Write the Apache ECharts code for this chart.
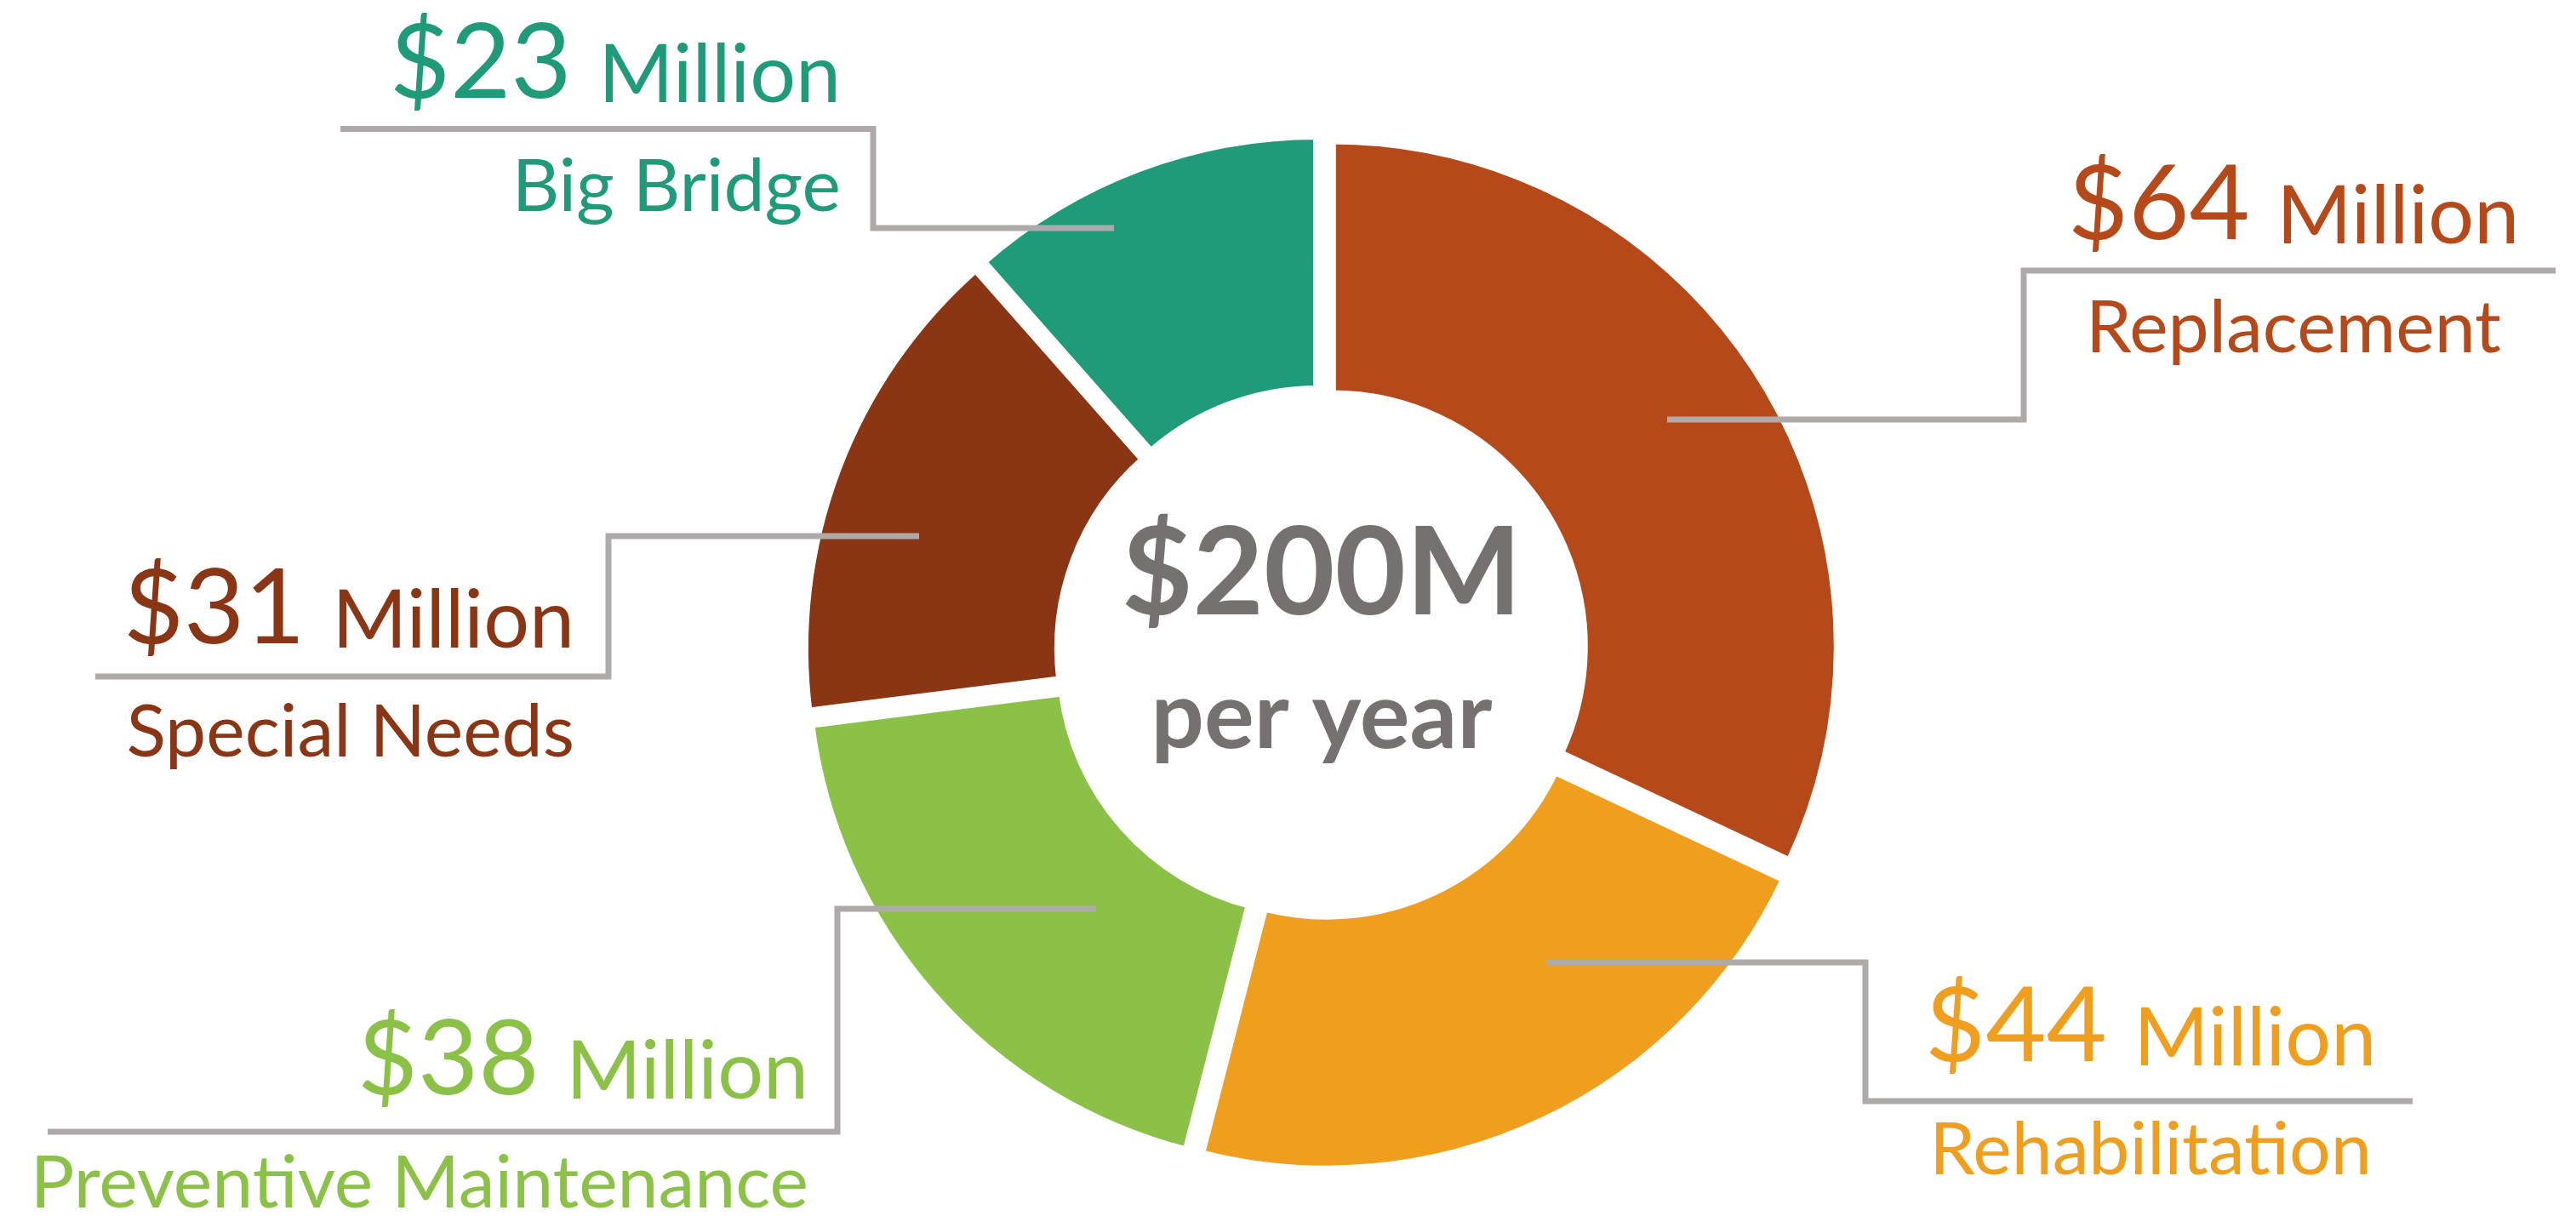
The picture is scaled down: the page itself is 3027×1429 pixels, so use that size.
<!DOCTYPE html>
<html>
<head>
<meta charset="utf-8">
<title>Bridge program funding</title>
<script src="https://cdn.jsdelivr.net/npm/echarts@6/dist/echarts.min.js"></script>
<style>
  html, body { margin: 0; padding: 0; background: #fff; }
  #chart { width: 3027px; height: 1429px; }
</style>
</head>
<body>
<div id="chart"></div>
<script>
// data
const categories = ['Replacement', 'Rehabilitation', 'Preventive Maintenance', 'Special Needs', 'Big Bridge']
const values = [64, 44, 38, 31, 23] // $ million per year
const unitLabel = 'Million'
const totalLabel = '$200M'
const totalSub = 'per year'

// styles
const colors = ['#B5491A', '#F09E1D', '#8CC147', '#8A3514', '#1F9B79']
const lineColor = '#AEAAAA'
const centerColor = '#767171'
const font = 'Lato'
const pieCenter = [1553, 767]
const pieRadius = [296, 595]

// where each callout sits (label anchor + stepped leader line), in px
const labelSpots = [
  { x: 2695, y: 163, align: 'center', line: [[1959, 493], [2378, 493], [2378, 318], [3003, 318]] },
  { x: 2527, y: 1129, align: 'center', line: [[1817, 1131], [2192, 1131], [2192, 1294], [2835, 1294]] },
  { x: 950, y: 1168, align: 'right', line: [[1288, 1068], [984, 1068], [984, 1330], [56, 1330]] },
  { x: 675, y: 638, align: 'right', line: [[1080, 630], [715, 630], [715, 795], [112, 795]] },
  { x: 988, y: -3, align: 'right', line: [[1309, 268], [1026, 268], [1026, 151.5], [400, 151.5]] }
]

const myChart = echarts.init(document.getElementById('chart'))

const richFor = (color, align) => ({
  v: { fontFamily: font, fontSize: 123, lineHeight: 140, verticalAlign: 'bottom', color, align },
  m: { fontFamily: font, fontSize: 95, lineHeight: 118, verticalAlign: 'bottom', color, align },
  n: { fontFamily: font, fontSize: 86, lineHeight: 166, color, align }
})

myChart.setOption({
  backgroundColor: '#fff',
  animation: false,
  title: {
    text: totalLabel,
    subtext: totalSub,
    left: pieCenter[0],
    top: 596,
    textAlign: 'center',
    padding: 0,
    itemGap: 23,
    textStyle: { fontFamily: font, fontWeight: 'bold', fontSize: 144, lineHeight: 160, color: centerColor },
    subtextStyle: { fontFamily: font, fontWeight: 'bold', fontSize: 110, lineHeight: 130, color: centerColor }
  },
  series: [
    { // exploded slices
      type: 'pie',
      z: 2,
      center: pieCenter,
      radius: pieRadius,
      startAngle: 90,
      clockwise: true,
      selectedMode: 'multiple',
      selectedOffset: 14,
      silent: true,
      itemStyle: { borderColor: '#fff', borderWidth: 10 },
      select: { itemStyle: { borderColor: '#fff', borderWidth: 10 } },
      label: { show: false },
      labelLine: { show: false },
      data: categories.map((name, i) => ({
        name,
        value: values[i],
        selected: true,
        itemStyle: { color: colors[i] },
        select: { itemStyle: { color: colors[i] } }
      }))
    },
    { // callouts (same slices, not filled), drawn on top so the leaders reach into the ring
      type: 'pie',
      z: 5,
      center: pieCenter,
      radius: pieRadius,
      startAngle: 90,
      clockwise: true,
      avoidLabelOverlap: false,
      silent: true,
      itemStyle: { color: 'rgba(0,0,0,0)', borderWidth: 0 },
      label: { show: true, position: 'outside', overflow: 'none' },
      labelLine: { show: true, smooth: false, lineStyle: { color: lineColor, width: 7 } },
      labelLayout: (p) => {
        const s = labelSpots[p.dataIndex]
        return { x: s.x, y: s.y, align: s.align, verticalAlign: 'top', labelLinePoints: s.line }
      },
      data: categories.map((name, i) => ({
        name,
        value: values[i],
        label: {
          formatter: '{v|$' + values[i] + ' }{m|' + unitLabel + '}\n{n|' + name + '}',
          align: labelSpots[i].align,
          rich: richFor(colors[i], labelSpots[i].align)
        }
      }))
    }
  ]
})
window.onresize = myChart.resize
</script>
</body>
</html>
